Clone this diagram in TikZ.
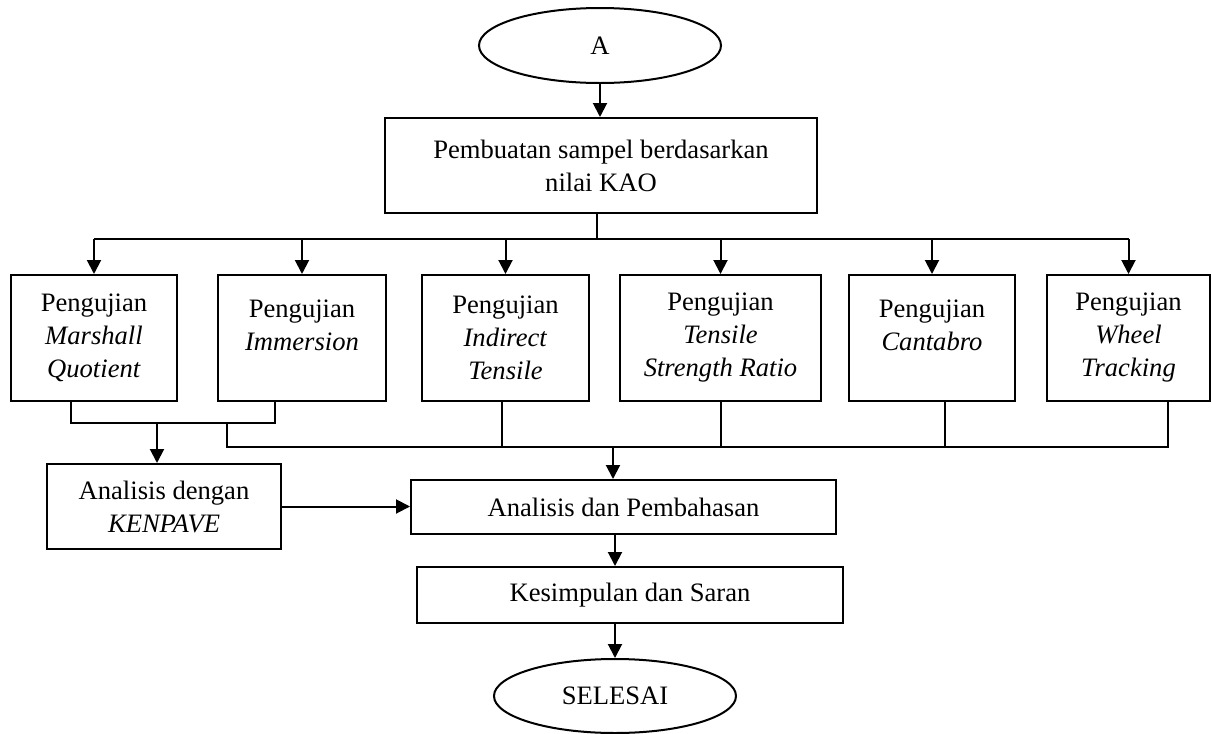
\documentclass[tikz,border=0pt]{standalone}
\usepackage{fontspec}
\setmainfont{Liberation Serif}
\usepackage{tikz}
\usetikzlibrary{arrows.meta}
\usetikzlibrary{shapes.geometric}
\tikzset{arr/.style = {-{Triangle[length=7pt, width=7pt]}}}
\tikzset{box/.style = {draw, rectangle, line width=1pt, inner sep=0, align=center}}
\tikzset{term/.style = {draw, ellipse, line width=1pt, inner sep=0,
                        minimum width=121pt, minimum height=37.5pt}}
\tikzset{testbox/.style = {box, minimum height=63pt}}

\begin{document}
\begin{tikzpicture}[x=0.5pt, y=-0.5pt, line width=1pt,
                    font=\fontsize{13.3}{16.5}\selectfont]
    \useasboundingbox (0, 0) rectangle (1212, 734);

    \node [term] (startA) at (600, 45.5) {A};
    \node [box, minimum width=216pt, minimum height=47.5pt] (make) at (601, 165.5)
        {Pembuatan sampel berdasarkan\\nilai KAO};

    \node [testbox, minimum width=83pt] (t1) at (94, 338)
        {Pengujian\\\textit{Marshall}\\\textit{Quotient}};
    \node [testbox, minimum width=84pt] (t2) at (302, 338)
        {Pengujian\\\textit{Immersion}\\[-4pt]\mbox{}};
    \node [testbox, minimum width=83.5pt] (t3) at (505.5, 338)
        {Pengujian\\\textit{Indirect}\\\textit{Tensile}};
    \node [testbox, minimum width=100.5pt] (t4) at (720.5, 338)
        {Pengujian\\\textit{Tensile}\\\textit{Strength Ratio}};
    \node [testbox, minimum width=83pt] (t5) at (932, 338)
        {Pengujian\\\textit{Cantabro}\\[-4pt]\mbox{}};
    \node [testbox, minimum width=81.5pt] (t6) at (1128.5, 338)
        {Pengujian\\\textit{Wheel}\\\textit{Tracking}};

    \node [box, minimum width=117pt, minimum height=42.5pt] (ken) at (164, 506.5)
        {Analisis dengan\\\textit{KENPAVE}};
    \node [box, minimum width=212.5pt, minimum height=27pt] (ana) at (623.5, 507)
        {Analisis dan Pembahasan};
    \node [box, minimum width=213pt, minimum height=28pt] (conc) at (630, 595)
        {Kesimpulan dan Saran};
    \node [term, minimum height=37pt] (endS) at (615, 696) {SELESAI};

    \coordinate (bus) at (597, 239);
    \coordinate (pair) at (157, 423);
    \coordinate (bus2) at (613, 447);

    \draw [arr] (startA.south) -- (startA.south |- make.north);
    \draw (make.south -| bus) -- (bus);
    \draw (t1.north |- bus) -- (t6.north |- bus);
    \foreach \n in {t1, t2, t3, t4, t5, t6}
        \draw [arr] (\n.north |- bus) -- (\n.north);

    % outputs of the first two tests
    \draw ([xshift=-11.5pt]t1.south) |- (pair) -| ([xshift=-13.5pt]t2.south);
    \draw [arr] (pair) -- (pair |- ken.north);
    \draw ([xshift=-37.5pt]t2.south |- pair) |- ([xshift=19.75pt]t6.south |- bus2)
        -- ([xshift=19.75pt]t6.south);
    \draw ([xshift=-2pt]t3.south) -- ([xshift=-2pt]t3.south |- bus2);
    \draw (t4.south) -- (t4.south |- bus2);
    \draw ([xshift=6.5pt]t5.south) -- ([xshift=6.5pt]t5.south |- bus2);
    \draw [arr] (bus2) -- (bus2 |- ana.north);

    \draw [arr] (ken.east) -- (ken.east -| ana.west);
    \draw [arr] (endS.north |- ana.south) -- (endS.north |- conc.north);
    \draw [arr] (endS.north |- conc.south) -- (endS.north);
\end{tikzpicture}
\end{document}
